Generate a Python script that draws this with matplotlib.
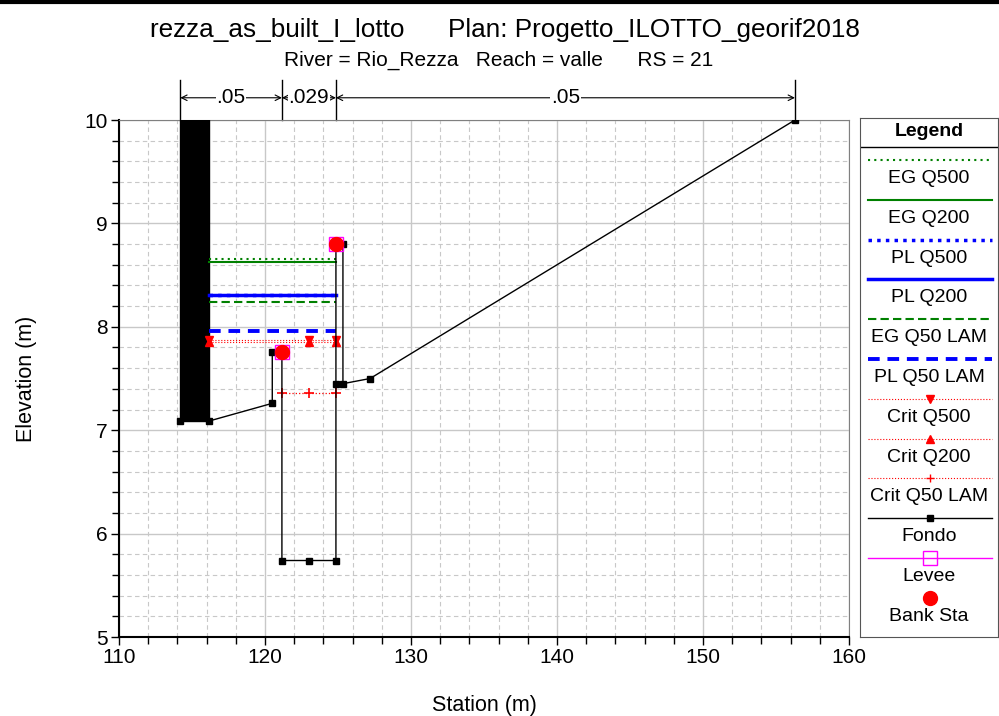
import numpy as np
import matplotlib.pyplot as plt
from matplotlib.transforms import blended_transform_factory

plt.rcParams['font.family'] = ['Liberation Sans', 'DejaVu Sans']

# ground profile (Fondo)
sta = [114.2, 116.2, 120.5, 120.5, 121.16, 121.16, 123.0, 124.86, 124.86, 124.86, 125.34, 125.34, 127.2, 156.3]
elev = [7.09, 7.09, 7.26, 7.76, 7.76, 5.74, 5.74, 5.74, 7.45, 8.80, 8.80, 7.45, 7.50, 10.0]
# blocked obstruction
obs_sta = [114.2, 116.2]
obs_top = 10.0
# water surfaces
ws_sta = [116.2, 124.86]
eg_q500 = 8.66
eg_q200 = 8.63
pl_q500 = 8.31
pl_q200 = 8.31
eg_q50 = 8.24
pl_q50 = 7.96
crit_sta = [116.2, 123.0, 124.86]
crit_q500 = 7.87
crit_q200 = 7.85
crit50_sta = [121.16, 123.0, 124.86]
crit_q50 = 7.36
bank_sta = [121.16, 124.86]
bank_elev = [7.76, 8.80]
# Manning n
n_breaks = [114.2, 121.16, 124.86, 156.3]
n_vals = ['.05', '.029', '.05']

fig = plt.figure(figsize=(9.99, 7.16), dpi=100)
ax = fig.add_axes([0.1191, 0.1103, 0.7307, 0.7221])

ax.fill_between(obs_sta, [min(elev[:2])] * 2, [obs_top] * 2, color='black', zorder=3)
ax.plot(ws_sta, [eg_q500] * 2, color='green', ls=(0, (1, 2)), lw=1.5, zorder=4)
ax.plot(ws_sta, [eg_q200] * 2, color='green', lw=1.5, zorder=4)
ax.plot(ws_sta, [pl_q500] * 2, color='blue', ls=(0, (1, 1.5)), lw=2.5, zorder=4)
ax.plot(ws_sta, [pl_q200] * 2, color='blue', lw=2.5, zorder=4)
ax.plot(ws_sta, [eg_q50] * 2, color='green', ls=(0, (4, 2)), lw=1.5, zorder=4)
ax.plot(ws_sta, [pl_q50] * 2, color='blue', ls=(0, (3, 2)), lw=2.8, zorder=4)
ax.plot(crit_sta, [crit_q500] * 3, color='red', ls=':', lw=0.8, marker='v', ms=6, zorder=4)
ax.plot(crit_sta, [crit_q200] * 3, color='red', ls=':', lw=0.8, marker='^', ms=6, zorder=4)
ax.plot(crit50_sta, [crit_q50] * 3, color='red', ls=':', lw=0.9, marker='+', ms=7, mew=1.2, zorder=4)
ax.plot(sta, elev, color='black', lw=1, marker='s', ms=5, zorder=5)
ax.plot(bank_sta, bank_elev, ls='none', marker='s', ms=10, mfc='none', mec='magenta', zorder=6)
ax.plot(bank_sta, bank_elev, ls='none', marker='o', ms=10, color='red', zorder=7)

ax.set_xlim(110, 160)
ax.set_ylim(5, 10)
ax.set_xticks(np.arange(110, 161, 10))
ax.set_xticks(np.arange(110, 161, 2), minor=True)
ax.set_yticks(np.arange(5, 10.1, 1))
ax.set_yticks(np.arange(5, 10.01, 0.2), minor=True)
ax.grid(which='major', color='#c8c8c8', lw=1)
ax.grid(which='minor', color='#c8c8c8', lw=0.8, ls=(0, (4, 3)))
ax.set_axisbelow(True)
ax.tick_params(labelsize=15, direction='out', length=6, width=1, pad=2)
ax.tick_params(which='minor', direction='out', length=5, width=1)
for s in ['top', 'right']:
    ax.spines[s].set_color('#808080')
for s in ['left', 'bottom']:
    ax.spines[s].set_linewidth(1.5)
ax.set_xlabel('Station (m)', fontsize=15.5, labelpad=20)
ax.set_ylabel('Elevation (m)', fontsize=15.5, labelpad=34)

# Manning n annotations
tr = blended_transform_factory(ax.transData, ax.transAxes)
for x in n_breaks:
    ax.plot([x, x], [1.0, 1.077], transform=tr, color='black', lw=1, clip_on=False)
for i, lab in enumerate(n_vals):
    x1, x2 = n_breaks[i], n_breaks[i + 1]
    ax.annotate('', xy=(x1, 1.043), xytext=(x2, 1.043), xycoords=tr, textcoords=tr,
                arrowprops=dict(arrowstyle='<->', lw=0.8, color='black', shrinkA=0, shrinkB=0))
    ax.text((x1 + x2) / 2, 1.043, lab, transform=tr, ha='center', va='center', fontsize=15,
            bbox=dict(facecolor='white', edgecolor='none', pad=0.5))

fig.text(0.505, 0.958, 'rezza_as_built_I_lotto      Plan: Progetto_ILOTTO_georif2018',
         ha='center', va='center', fontsize=18.8)
fig.text(0.499, 0.916, 'River = Rio_Rezza   Reach = valle      RS = 21', ha='center', va='center', fontsize=15)
fig.add_artist(plt.Line2D([0, 1], [0.997, 0.997], transform=fig.transFigure, color='black', lw=3))

# legend panel
lg = fig.add_axes([0.861, 0.1103, 0.138, 0.7249])
lg.set_xlim(0, 1)
lg.set_ylim(637, 118)
lg.set_xticks([])
lg.set_yticks([])
for s in lg.spines.values():
    s.set_color('#555555')
lg.axhline(147, color='black', lw=1)
lg.text(0.5, 132, 'Legend', ha='center', va='center', fontsize=14, fontweight='bold')
leg_labels = ['EG Q500', 'EG Q200', 'PL Q500', 'PL Q200', 'EG Q50 LAM', 'PL Q50 LAM',
              'Crit Q500', 'Crit Q200', 'Crit Q50 LAM', 'Fondo', 'Levee', 'Bank Sta']
styles = [
    dict(color='green', ls=(0, (1, 2)), lw=1.5),
    dict(color='green', lw=1.5),
    dict(color='blue', ls=(0, (1, 1.5)), lw=2.5),
    dict(color='blue', lw=2.5),
    dict(color='green', ls=(0, (4, 2)), lw=1.5),
    dict(color='blue', ls=(0, (3, 2)), lw=2.8),
    dict(color='red', ls=':', lw=0.8),
    dict(color='red', ls=':', lw=0.8),
    dict(color='red', ls=':', lw=0.8),
    dict(color='black', lw=1),
    dict(color='magenta', lw=1),
    None,
]
marks = [None] * 6 + [dict(marker='v', ms=6, color='red'), dict(marker='^', ms=6, color='red'),
                      dict(marker='+', ms=6, color='red'), dict(marker='s', ms=5, color='black'),
                      dict(marker='s', ms=10, mfc='none', mec='magenta'), dict(marker='o', ms=10, color='red')]
for i, lab in enumerate(leg_labels):
    yl = 160 + 39.8 * i
    if styles[i] is not None:
        lg.plot([0.06, 0.96], [yl, yl], **styles[i])
    if marks[i] is not None:
        lg.plot([0.51], [yl], ls='none', **marks[i])
    lg.text(0.5, yl + 18.5, lab, ha='center', va='center', fontsize=14)

fig.savefig('out.png', dpi=100)
